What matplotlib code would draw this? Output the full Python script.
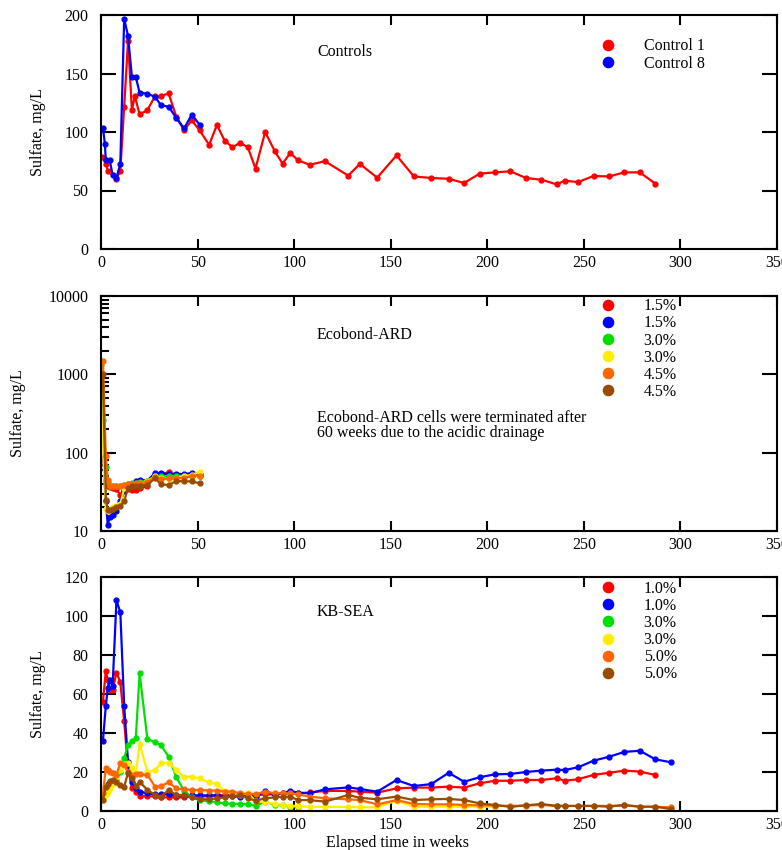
import numpy as np
import matplotlib
matplotlib.use("Agg")
import matplotlib.pyplot as plt
from matplotlib.ticker import FixedLocator, LogLocator, NullFormatter

plt.rcParams['font.family'] = ['Liberation Serif', 'DejaVu Serif']
plt.rcParams['font.size'] = 11.5

# ---- Controls ----
ctrl1_weeks = [0.5, 2.5, 3.5, 8, 10, 12, 14, 16, 17.5, 20,
               24, 28, 31, 35, 39, 43, 47, 51, 56, 60,
               64, 68, 72, 76, 80, 85, 90, 94, 98, 102,
               108, 116, 128, 134, 143, 153, 162, 171, 180, 188,
               196, 204, 212, 220, 228, 236, 240, 247, 255, 263,
               271, 279, 287]
ctrl1 = [79, 73, 67, 60, 67, 121.6, 178, 118.7, 130.7, 115,
         118.7, 130.7, 130.7, 133, 113, 101.5, 110, 101.5, 89, 106,
         92.7, 87, 90.7, 87, 68.7, 100, 83.5, 73, 82, 75.8,
         72, 75, 62.7, 72.7, 61, 80, 62, 60.7, 60, 56.4,
         64.4, 65.5, 66.4, 60.7, 59.2, 55.2, 58.4, 57.2, 62.4, 62,
         65.5, 65.5, 55.8]
ctrl8_weeks = [1, 2, 2.5, 4.5, 6, 8, 10, 12, 14, 16,
               18, 20, 24, 28, 31, 35, 39, 43, 47, 51]
ctrl8 = [103.6, 90, 75.8, 75.8, 63.5, 60.7, 72.7, 197, 182, 147,
         147, 133.6, 132.8, 130, 123, 121.6, 112, 103, 114.8, 106.4]
ctrl_labels = ['Control 1', 'Control 8']

# ---- Ecobond-ARD ----
eco_weeks = [0, 1, 2.5, 3.5, 4.5, 6, 8, 10, 12, 14, 16, 18, 20, 24, 28,
             31, 35, 39, 43, 47, 51]
eco_red = [110, 100, 45, 38, 36, 35, 34, 29, 34, 34, 33, 33, 35, 37, 52,
           53, 56, 52, 52, 51, 51]
eco_blue = [370, 100, 24, 12, 15, 16, 18, 24, 32, 38, 40, 43, 45, 44, 55,
            55, 53, 54, 53, 55, 54]
eco_green = [1300, 260, 65, 42, 38, 37, 37, 38, 39, 40, 41, 41, 42, 44, 50,
             50, 50, 51, 50, 50, 51]
eco_yellow = [700, 110, 19, 18, 19, 20, 21, 22, 35, 37, 39, 40, 41, 43, 50,
              47, 46, 48, 50, 52, 57]
eco_orange = [1500, 1500, 90, 45, 38, 38, 37, 38, 39, 40, 40, 41, 41, 42, 49,
              46, 47, 47, 48, 50, 51]
eco_brown = [680, 1000, 25, 18.5, 18.5, 19, 20, 21, 24, 35, 37, 38, 38, 39, 47,
             39.5, 38.6, 43.5, 43, 43, 40.6]
eco_labels = ['1.5%', '1.5%', '3.0%', '3.0%', '4.5%', '4.5%']

# ---- KB-SEA ----
kb_weeks = [1, 2.5, 3.5, 4.5, 6, 8, 10, 12, 14, 16, 18, 20,
            24, 28, 31, 35, 39, 43, 47, 51,
            56, 60, 64, 68, 72, 76, 80, 85, 90, 94, 98, 102,
            108, 116, 128, 134, 143, 153, 162, 171, 180, 188, 196, 204,
            212, 220, 228, 236, 240, 247, 255, 263, 271, 279, 287, 295]
kb_red = [56, 72, 67, 62, 62, 71, 66, 46, 22, 12, 9.9, 7.8,
          7.5, 7.5, 7, 7, 7, 7, 7.5, 7.5,
          7.5, 8, 8, 8, 8, 8, 8, 8.5, 8.5, 9, 9, 9,
          9.5, 10.3, 10.3, 9.9, 9.4, 11.6, 12, 12, 12.5, 12, 14.2, 15.5,
          15.5, 15.9, 15.9, 16.8, 15.5, 16.3, 18.5, 19.6, 20.7, 20.2, 18.5]
kb_blue = [36, 54, 63, 67, 64, 108, 102, 54, 25, 15, 12, 9.9,
           9.1, 8.5, 8.5, 8.5, 8, 8, 8, 8,
           8, 8, 7.5, 7.5, 7.4, 7.5, 7.4, 10.4, 8.2, 9, 10.3, 9.4,
           9.1, 11.1, 12.1, 11.3, 9.9, 15.9, 12.8, 13.8, 19.6, 15, 17.3, 18.8,
           19, 20, 20.7, 21.2, 21, 22.4, 25.8, 27.8, 30.3, 30.9, 26.5, 25]
kb_green = [7.4, 10, 13, 15, 15, 16, 20, 27, 34, 36, 37.3, 70.6,
            37, 35.2, 33.8, 27.8, 17.3, 10.4, 7, 5.6,
            5, 4.5, 3.9, 3.7, 3.6, 3.5, 2.7, 4.8, 3.1, 3, 2.2, 2.2]
kb_yellow = [5.6, 8, 10, 11.6, 14, 17, 21, 24, 24.8, 22, 19.3, 34.4,
             20.2, 21, 24.4, 24.8, 21, 17.6, 17.6, 16.8,
             14.7, 13.8, 10.4, 9, 8, 9.4, 5, 4.5, 3.6, 3.2, 2.8, 2.5,
             2.2, 2.2, 2.1, 1.9, 1.9, 5.3, 2.2, 2.2, 2.2, 2.2, 2.2, 2.2]
kb_orange = [9.2, 21.9, 21, 20, 19.6, 18.5, 24.8, 23.6, 20, 18.5, 19, 19,
             18.5, 12.5, 12.8, 14.7, 11.6, 11.1, 10.8, 10.8,
             10.5, 10.5, 10, 10, 9, 8.8, 8.7, 9.9, 9.1, 9.1, 9.1, 8.5,
             7.4, 6.5, 6, 5.6, 3.4, 5.6, 3.6, 3.4, 3.4, 3.1, 2.9, 2.8,
             2.6, 2.8, 3.1, 2.6, 2.6, 2.6, 2.6, 2.6, 2.9, 2.2, 2.2, 1.9]
kb_brown = [5.6, 12.5, 14, 15.5, 15.9, 15, 13.3, 12.5, 19.6, 16.8, 12.8, 15,
            10.8, 8.2, 7.4, 10.8, 8.2, 8.2, 7, 6,
            6, 6.5, 7, 7.5, 8.2, 6.5, 5.3, 6.5, 7, 7.2, 7.4, 5.6,
            5.6, 4.8, 8.2, 6.8, 6, 7.4, 5.6, 6, 6.2, 5.6, 3.9, 3.1,
            2.1, 2.9, 3.6, 2.6, 2.6, 2.6, 2.6, 2.2, 3.1, 2.2, 2.2, 1.0]
kb_labels = ['1.0%', '1.0%', '3.0%', '3.0%', '5.0%', '5.0%']

colors = ['#ff0000', '#0000ff', '#00e000', '#ffee00', '#ff6600', '#994c00']

fig = plt.figure(figsize=(7.82, 8.5), dpi=100)
left, width = 101 / 782, 676 / 782
ax1 = fig.add_axes([left, 1 - 249 / 850, width, 234 / 850])
ax2 = fig.add_axes([left, 1 - 531 / 850, width, 235 / 850])
ax3 = fig.add_axes([left, 1 - 811 / 850, width, 234 / 850])


def style(ax):
    for s in ax.spines.values():
        s.set_linewidth(1.5)
    ax.set_xlim(0, 350)
    ax.set_xticks(np.arange(0, 351, 50))
    ax.tick_params(axis='both', direction='in', top=True, right=True, width=1.5)
    ax.tick_params(axis='x', length=7, pad=4)
    ax.tick_params(axis='y', which='major', length=11, pad=9)
    ax.set_ylabel('Sulfate, mg/L')


def add_legend(ax, labels, ytop):
    h = [plt.Line2D([], [], color=c, marker='o', linestyle='none', markersize=3.5)
         for c in colors[:len(labels)]]
    ax.legend(h, labels, loc='upper left', bbox_to_anchor=(0.74, ytop),
              frameon=False, handlelength=0.9, handletextpad=1.75, labelspacing=0.07,
              borderpad=0, borderaxespad=0, markerscale=2.1)


kw = dict(marker='o', markersize=3.5, linewidth=1.6)

# top panel
ax1.plot(ctrl1_weeks, ctrl1, color=colors[0], **kw)
ax1.plot(ctrl8_weeks, ctrl8, color=colors[1], **kw)
style(ax1)
ax1.set_ylim(0, 200)
ax1.set_yticks(np.arange(0, 201, 50))
ax1.yaxis.set_label_coords(-0.081, 0.5)
ax1.text(0.3195, 0.842, 'Controls', transform=ax1.transAxes, va='center', ha='left')
add_legend(ax1, ctrl_labels, 0.90)

# middle panel
eco_series = [eco_red, eco_blue, eco_green, eco_yellow, eco_orange, eco_brown]
for vals, c in zip(eco_series, colors):
    ax2.plot(eco_weeks, vals, color=c, **kw)
style(ax2)
ax2.set_yscale('log')
ax2.set_ylim(10, 10000)
ax2.yaxis.set_major_locator(FixedLocator([10, 100, 1000, 10000]))
ax2.set_yticklabels(['10', '100', '1000', '10000'])
ax2.yaxis.set_minor_locator(LogLocator(base=10, subs=np.arange(2, 10)))
ax2.yaxis.set_minor_formatter(NullFormatter())
ax2.tick_params(axis='y', which='minor', direction='in', length=6, width=1.5,
                right=False)
ax2.yaxis.set_label_coords(-0.111, 0.5)
ax2.text(0.3195, 0.834, 'Ecobond-ARD', transform=ax2.transAxes, va='center', ha='left')
ax2.text(0.3195, 0.449, 'Ecobond-ARD cells were terminated after\n60 weeks due to the acidic drainage',
         transform=ax2.transAxes, va='center', ha='left', linespacing=0.95)
add_legend(ax2, eco_labels, 0.99)

# bottom panel
kb_series = [kb_red, kb_blue, kb_green, kb_yellow, kb_orange, kb_brown]
for vals, c in zip(kb_series, colors):
    ax3.plot(kb_weeks[:len(vals)], vals, color=c, **kw)
style(ax3)
ax3.set_ylim(0, 120)
ax3.set_yticks(np.arange(0, 121, 20))
ax3.yaxis.set_label_coords(-0.081, 0.5)
ax3.text(0.3195, 0.85, 'KB-SEA', transform=ax3.transAxes, va='center', ha='left')
add_legend(ax3, kb_labels, 0.984)

fig.text(398 / 782, 1 - 843 / 850, 'Elapsed time in weeks', ha='center', va='center')

fig.savefig('out.png', dpi=100)
